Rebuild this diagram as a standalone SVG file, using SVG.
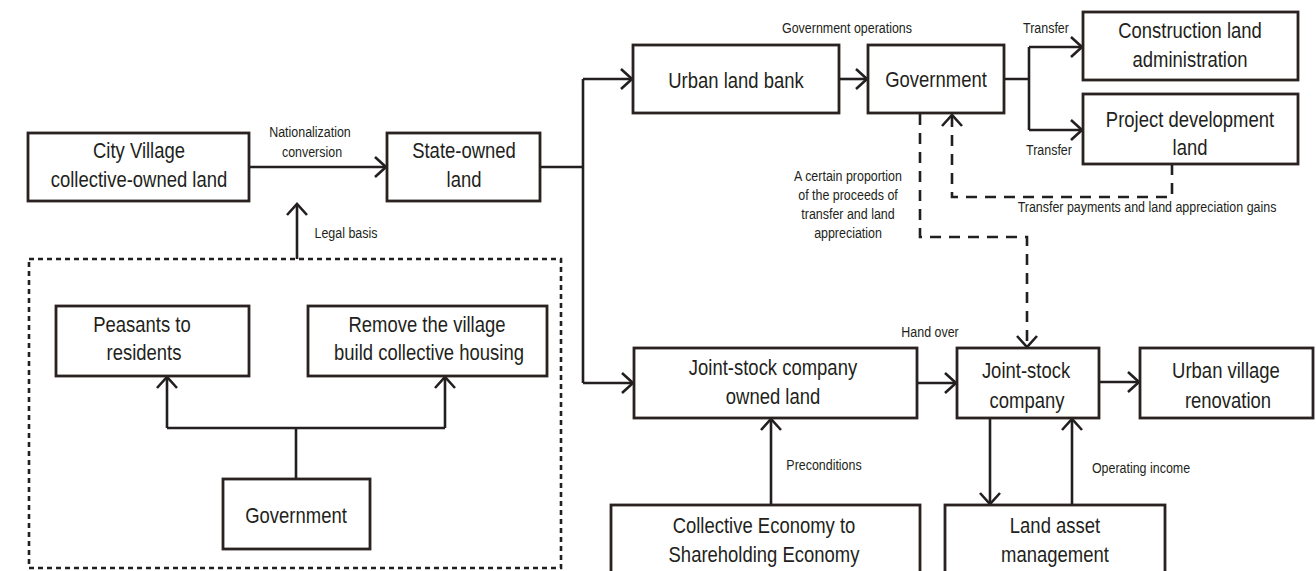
<svg xmlns="http://www.w3.org/2000/svg" width="1316" height="571" viewBox="0 0 1316 571">
<defs>
<marker id="ah" markerUnits="userSpaceOnUse" markerWidth="16" markerHeight="24" refX="12" refY="11" orient="auto" overflow="visible">
<path d="M1,1 L12,11 L1,21" fill="none" stroke="#231f20" stroke-width="2.6"/>
</marker>
</defs>
<style>
.box{fill:#fff;stroke:#2a2220;stroke-width:2.8}
.t{font-family:"Liberation Sans",Arial,sans-serif;font-size:22px;fill:#231f20;text-anchor:middle}
.l{font-family:"Liberation Sans",Arial,sans-serif;font-size:15px;fill:#231f20;text-anchor:middle}
.c{fill:none;stroke:#231f20;stroke-width:2.6}
.d{fill:none;stroke:#231f20;stroke-width:2.6;stroke-dasharray:11 8}
.dot{fill:none;stroke:#231f20;stroke-width:2.6;stroke-dasharray:5 4}
</style>
<rect width="1316" height="571" fill="#fff"/>
<g id="connectors">
<path class="c" d="M249,167 H386" marker-end="url(#ah)"/>
<path class="c" d="M540,167 H583 M583,79 V383"/>
<path class="c" d="M583,79 H632" marker-end="url(#ah)"/>
<path class="c" d="M583,383 H633" marker-end="url(#ah)"/>
<path class="c" d="M839,79 H867" marker-end="url(#ah)"/>
<path class="c" d="M1004,79 H1029 M1029,47 V130"/>
<path class="c" d="M1029,47 H1082" marker-end="url(#ah)"/>
<path class="c" d="M1029,130 H1082" marker-end="url(#ah)"/>
<path class="d" d="M1172,164 V197 H952 V115" marker-end="url(#ah)"/>
<path class="d" d="M920,114 V237 H1027 V347" marker-end="url(#ah)"/>
<path class="c" d="M917,383 H956" marker-end="url(#ah)"/>
<path class="c" d="M1099,382 H1139" marker-end="url(#ah)"/>
<path class="c" d="M771,505 V419" marker-end="url(#ah)"/>
<path class="c" d="M990,418 V504" marker-end="url(#ah)"/>
<path class="c" d="M1072,505 V419" marker-end="url(#ah)"/>
<path class="c" d="M297,259 V204" marker-end="url(#ah)"/>
<path class="c" d="M296,479 V428 M167,428 H445"/>
<path class="c" d="M167,428 V377" marker-end="url(#ah)"/>
<path class="c" d="M445,428 V377" marker-end="url(#ah)"/>
<rect class="dot" x="29" y="259" width="532" height="309"/>
</g>
<g id="labels">
<text class="l" transform="translate(310,137) scale(0.83,1)">Nationalization</text>
<text class="l" transform="translate(312,157) scale(0.83,1)">conversion</text>
<text class="l" transform="translate(346,238) scale(0.83,1)">Legal basis</text>
<text class="l" transform="translate(847,33) scale(0.83,1)">Government operations</text>
<text class="l" transform="translate(1046,33) scale(0.83,1)">Transfer</text>
<text class="l" transform="translate(1049,155) scale(0.83,1)">Transfer</text>
<text class="l" transform="translate(1147,212) scale(0.83,1)">Transfer payments and land appreciation gains</text>
<text class="l" transform="translate(848,181) scale(0.83,1)">A certain proportion</text>
<text class="l" transform="translate(848,200) scale(0.83,1)">of the proceeds of</text>
<text class="l" transform="translate(848,219) scale(0.83,1)">transfer and land</text>
<text class="l" transform="translate(848,238) scale(0.83,1)">appreciation</text>
<text class="l" transform="translate(930,337) scale(0.83,1)">Hand over</text>
<text class="l" transform="translate(824,470) scale(0.83,1)">Preconditions</text>
<text class="l" transform="translate(1141,473) scale(0.83,1)">Operating income</text>
</g>
<g id="city-village"><rect class="box" x="28" y="133" width="221" height="68"/><text class="t" transform="translate(139,158) scale(0.84,1)">City Village</text><text class="t" transform="translate(139,187) scale(0.84,1)">collective-owned land</text></g>
<g id="state-owned"><rect class="box" x="387" y="133" width="153" height="68"/><text class="t" transform="translate(464,158) scale(0.84,1)">State-owned</text><text class="t" transform="translate(464,187) scale(0.84,1)">land</text></g>
<g id="urban-land-bank"><rect class="box" x="633" y="45" width="206" height="68"/><text class="t" transform="translate(736,88) scale(0.84,1)">Urban land bank</text></g>
<g id="government-top"><rect class="box" x="868" y="45" width="136" height="68"/><text class="t" transform="translate(936,87) scale(0.84,1)">Government</text></g>
<g id="construction-land"><rect class="box" x="1083" y="12" width="215" height="68"/><text class="t" transform="translate(1190,38) scale(0.84,1)">Construction land</text><text class="t" transform="translate(1190,67) scale(0.84,1)">administration</text></g>
<g id="project-land"><rect class="box" x="1083" y="94" width="215" height="70"/><text class="t" transform="translate(1190,127) scale(0.84,1)">Project development</text><text class="t" transform="translate(1190,155) scale(0.84,1)">land</text></g>
<g id="jsc-land"><rect class="box" x="634" y="348" width="283" height="70"/><text class="t" transform="translate(773,375) scale(0.84,1)">Joint-stock company</text><text class="t" transform="translate(773,404) scale(0.84,1)">owned land</text></g>
<g id="jsc"><rect class="box" x="957" y="348" width="142" height="70"/><text class="t" transform="translate(1026,378) scale(0.84,1)">Joint-stock</text><text class="t" transform="translate(1027,408) scale(0.84,1)">company</text></g>
<g id="renovation"><rect class="box" x="1140" y="348" width="173" height="70"/><text class="t" transform="translate(1226,378) scale(0.84,1)">Urban village</text><text class="t" transform="translate(1228,408) scale(0.84,1)">renovation</text></g>
<g id="collective-economy"><rect class="box" x="611" y="505" width="309" height="75"/><text class="t" transform="translate(764,533) scale(0.84,1)">Collective Economy to</text><text class="t" transform="translate(764,562) scale(0.84,1)">Shareholding Economy</text></g>
<g id="land-asset"><rect class="box" x="945" y="505" width="220" height="75"/><text class="t" transform="translate(1055,533) scale(0.84,1)">Land asset</text><text class="t" transform="translate(1055,562) scale(0.84,1)">management</text></g>
<g id="peasants"><rect class="box" x="56" y="306" width="193" height="70"/><text class="t" transform="translate(142,332) scale(0.84,1)">Peasants to</text><text class="t" transform="translate(144,360) scale(0.84,1)">residents</text></g>
<g id="remove-village"><rect class="box" x="308" y="306" width="239" height="70"/><text class="t" transform="translate(427,332) scale(0.84,1)">Remove the village</text><text class="t" transform="translate(429,360) scale(0.84,1)">build collective housing</text></g>
<g id="government-left"><rect class="box" x="223" y="479" width="147" height="70"/><text class="t" transform="translate(296,523) scale(0.84,1)">Government</text></g>
</svg>
